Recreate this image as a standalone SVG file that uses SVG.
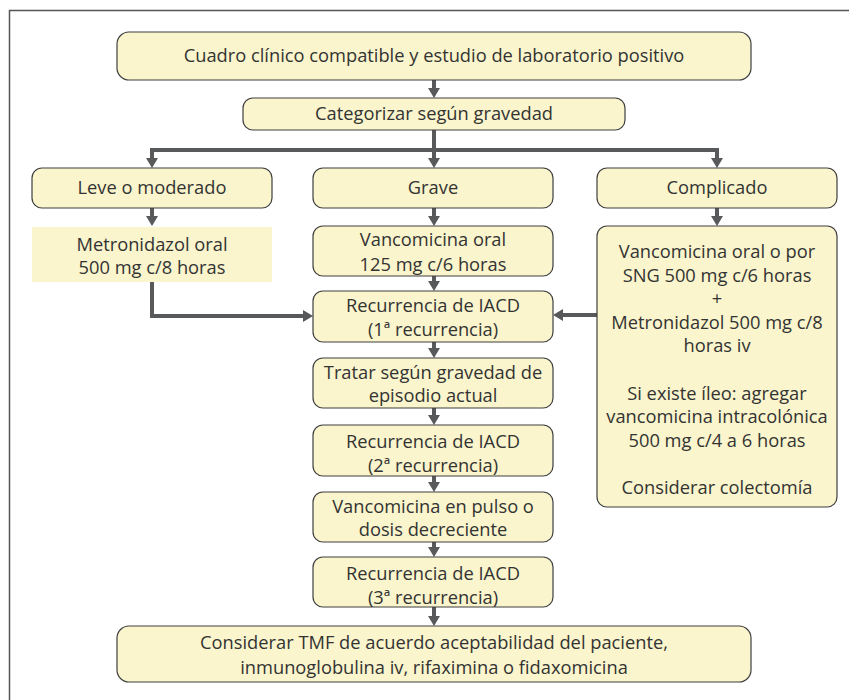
<svg xmlns="http://www.w3.org/2000/svg" width="849" height="700" viewBox="0 0 849 700">
<defs>
<marker id="ah" markerUnits="userSpaceOnUse" markerWidth="12" markerHeight="12" viewBox="0 0 10 12" refX="0" refY="6" orient="auto">
<path d="M0,0 L10,6 L0,12 z" fill="#58595b"/>
</marker>
<style>
.box{fill:#faf5cc;stroke:#3f3f3f;stroke-width:1.2}
.flat{fill:#faf5cc;stroke:none}
text{font-family:"Open Sans","Noto Sans",sans-serif;font-size:18.3px;fill:#333;text-anchor:middle}
.c{fill:none;stroke:#58595b;stroke-width:4}
.frame{fill:none;stroke:#555;stroke-width:1.5}
</style>
</defs>
<rect class="frame" x="9.5" y="10.5" width="900" height="800"/>
<g id="connectors">
<path class="c" d="M434,80 V88" marker-end="url(#ah)"/>
<path class="c" d="M434,130 V158" marker-end="url(#ah)"/>
<path class="c" d="M152,158 V150 H717 V158" marker-end="url(#ah)"/>
<path class="c" d="M152,150 V158" marker-end="url(#ah)"/>
<path class="c" d="M152,208 V216" marker-end="url(#ah)"/>
<path class="c" d="M434,208 V216" marker-end="url(#ah)"/>
<path class="c" d="M717,208 V216" marker-end="url(#ah)"/>
<path class="c" d="M152,282 V316 H303" marker-end="url(#ah)"/>
<path class="c" d="M597,315 H563" marker-end="url(#ah)"/>
<path class="c" d="M434,276 V281" marker-end="url(#ah)"/>
<path class="c" d="M434,342 V348" marker-end="url(#ah)"/>
<path class="c" d="M434,408 V415" marker-end="url(#ah)"/>
<path class="c" d="M434,476 V482" marker-end="url(#ah)"/>
<path class="c" d="M434,542 V547" marker-end="url(#ah)"/>
<path class="c" d="M434,607 V616" marker-end="url(#ah)"/>
</g>
<g id="n1"><rect class="box" x="117" y="32" width="634" height="48" rx="12"/><text x="434" y="62">Cuadro clínico compatible y estudio de laboratorio positivo</text></g>
<g id="n2"><rect class="box" x="243" y="98" width="382" height="32" rx="10"/><text x="434" y="120">Categorizar según gravedad</text></g>
<g id="n3"><rect class="box" x="32" y="168" width="240" height="40" rx="10"/><text x="152" y="194">Leve o moderado</text></g>
<g id="n4"><rect class="box" x="313" y="168" width="240" height="40" rx="10"/><text x="433" y="194">Grave</text></g>
<g id="n5"><rect class="box" x="597" y="168" width="240" height="40" rx="10"/><text x="717" y="194">Complicado</text></g>
<g id="n6"><rect class="flat" x="32" y="227" width="240" height="55"/><text x="152" y="251">Metronidazol oral</text><text x="152" y="274">500 mg c/8 horas</text></g>
<g id="n7"><rect class="box" x="313" y="226" width="240" height="50" rx="10"/><text x="433" y="246">Vancomicina oral</text><text x="433" y="271">125 mg c/6 horas</text></g>
<g id="n8"><rect class="box" x="597" y="226" width="240" height="281" rx="10"/>
<text x="717" y="258">Vancomicina oral o por</text>
<text x="717" y="281.6">SNG 500 mg c/6 horas</text>
<text x="717" y="305">+</text>
<text x="717" y="329">Metronidazol 500 mg c/8</text>
<text x="717" y="352.4">horas iv</text>
<text x="717" y="399.6">Si existe íleo: agregar</text>
<text x="717" y="423">vancomicina intracolónica</text>
<text x="717" y="447">500 mg c/4 a 6 horas</text>
<text x="717" y="494">Considerar colectomía</text></g>
<g id="n9"><rect class="box" x="313" y="291" width="240" height="51" rx="10"/><text x="433" y="312">Recurrencia de IACD</text><text x="433" y="336">(1ª recurrencia)</text></g>
<g id="n10"><rect class="box" x="313" y="358" width="240" height="50" rx="10"/><text x="433" y="379">Tratar según gravedad de</text><text x="433" y="402">episodio actual</text></g>
<g id="n11"><rect class="box" x="313" y="425" width="240" height="51" rx="10"/><text x="433" y="448">Recurrencia de IACD</text><text x="433" y="472">(2ª recurrencia)</text></g>
<g id="n12"><rect class="box" x="313" y="492" width="240" height="50" rx="10"/><text x="433" y="513">Vancomicina en pulso o</text><text x="433" y="536">dosis decreciente</text></g>
<g id="n13"><rect class="box" x="313" y="557" width="240" height="50" rx="10"/><text x="433" y="580">Recurrencia de IACD</text><text x="433" y="604">(3ª recurrencia)</text></g>
<g id="n14"><rect class="box" x="117" y="626" width="634" height="56" rx="12"/><text x="434" y="649">Considerar TMF de acuerdo aceptabilidad del paciente,</text><text x="434" y="674">inmunoglobulina iv, rifaximina o fidaxomicina</text></g>
</svg>
